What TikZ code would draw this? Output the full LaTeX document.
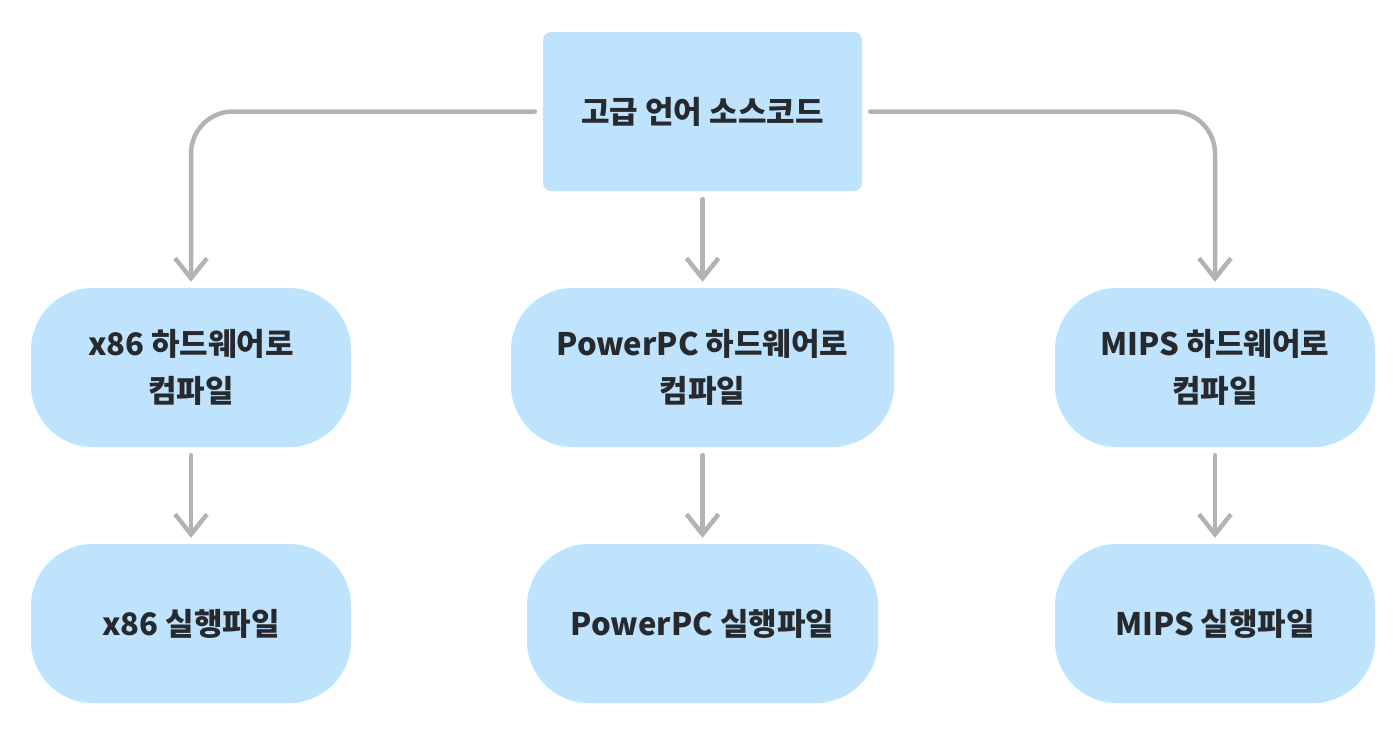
\documentclass[tikz,border=0pt]{standalone}
\usepackage{fontspec}
\setmainfont{Noto Sans CJK KR}
\usetikzlibrary{arrows.meta}
\definecolor{boxfill}{HTML}{BFE3FD}
\definecolor{txt}{HTML}{262A2E}
\definecolor{conncol}{HTML}{B3B3B3}
\begin{document}
\begin{tikzpicture}[x=1pt,y=-1pt,
  box/.style={fill=boxfill, draw=none, minimum height=159pt, align=center,
    font=\fontsize{31}{47}\selectfont\bfseries, text=txt, inner sep=0pt},
  topbox/.style={box, rounded corners=8pt, minimum width=319pt},
  pill/.style={box, rounded corners=62pt},
  conn/.style={draw=conncol, line width=4.5pt, line cap=round, line join=round,
    -{Straight Barb[length=20pt,width=32pt,line width=4.5pt]}}
]
\useasboundingbox (0,0) rectangle (1399,731);
\node[topbox] (src) at (702.5,111.5) {고급 언어 소스코드};
\node[pill, minimum width=320pt] (x86c) at (191,367.5) {x86 하드웨어로\\컴파일};
\node[pill, minimum width=383pt] (ppcc) at (702.5,367.5) {PowerPC 하드웨어로\\컴파일};
\node[pill, minimum width=320pt] (mipsc) at (1215,367.5) {MIPS 하드웨어로\\컴파일};
\node[pill, minimum width=320pt] (x86e) at (191,623.5) {x86 실행파일};
\node[pill, minimum width=351pt] (ppce) at (702.5,623.5) {PowerPC 실행파일};
\node[pill, minimum width=320pt] (mipse) at (1215,623.5) {MIPS 실행파일};

\draw[conn, rounded corners=42pt] ([xshift=-8pt]src.west) -| ([yshift=6pt]x86c.north);
\draw[conn, rounded corners=42pt] ([xshift=8pt]src.east) -| ([yshift=6pt]mipsc.north);
\draw[conn] ([yshift=-8pt]src.south) -- ([yshift=6pt]ppcc.north);
\draw[conn] ([yshift=-8pt]x86c.south) -- ([yshift=6pt]x86e.north);
\draw[conn] ([yshift=-8pt]ppcc.south) -- ([yshift=6pt]ppce.north);
\draw[conn] ([yshift=-8pt]mipsc.south) -- ([yshift=6pt]mipse.north);
\end{tikzpicture}
\end{document}
